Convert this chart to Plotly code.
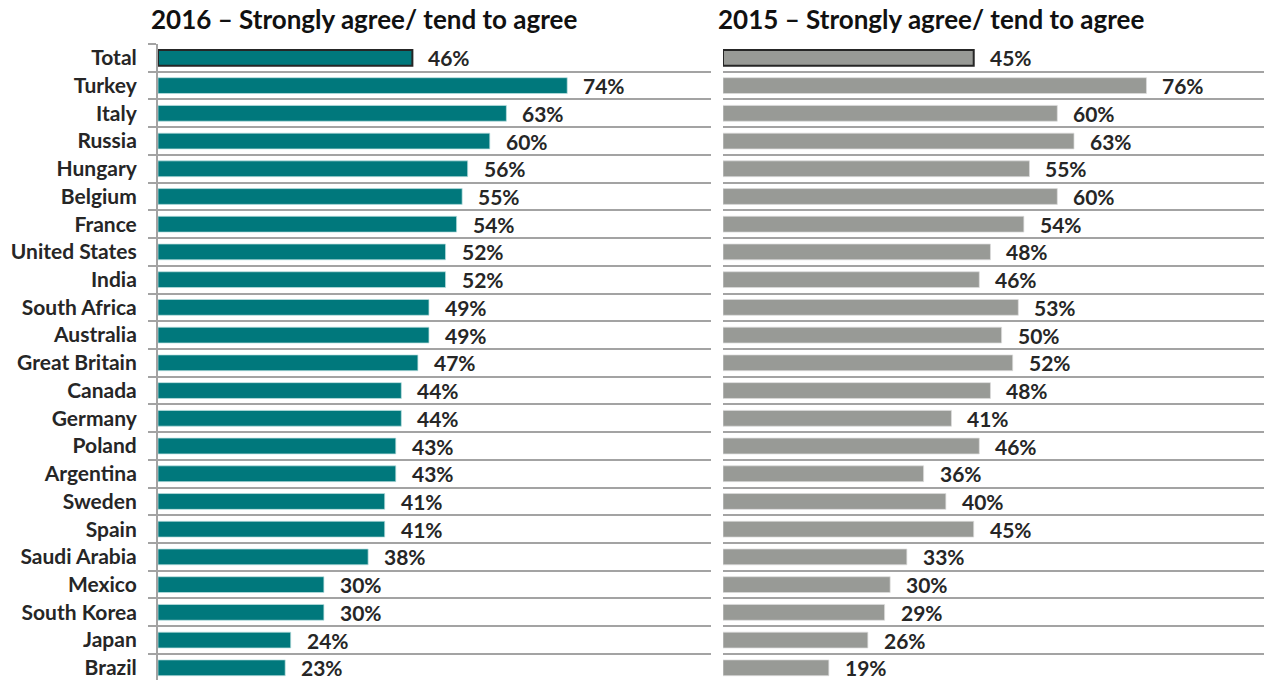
import plotly.graph_objects as go

categories = ["Total", "Turkey", "Italy", "Russia", "Hungary", "Belgium", "France",
              "United States", "India", "South Africa", "Australia", "Great Britain",
              "Canada", "Germany", "Poland", "Argentina", "Sweden", "Spain",
              "Saudi Arabia", "Mexico", "South Korea", "Japan", "Brazil"]
values_2016 = [46, 74, 63, 60, 56, 55, 54, 52, 52, 49, 49, 47, 44, 44, 43, 43, 41, 41, 38, 30, 30, 24, 23]
values_2015 = [45, 76, 60, 63, 55, 60, 54, 48, 46, 53, 50, 52, 48, 41, 46, 36, 40, 45, 33, 30, 29, 26, 19]
title_2016 = "2016 – Strongly agree/ tend to agree"
title_2015 = "2015 – Strongly agree/ tend to agree"

W, H = 1264, 680
TOP = 44
FONT = "Lato"
TXT = "#262626"
GRID = "#a3a3a3"
TEAL = "#00787c"
GRAY = "#989a96"

line_w = [2 if c == "Total" else 0.8 for c in categories]
line_c1 = ["#262626" if c == "Total" else "rgba(190,225,225,0.9)" for c in categories]
line_c2 = ["#262626" if c == "Total" else "rgba(220,220,220,0.9)" for c in categories]

fig = go.Figure()
fig.add_trace(go.Bar(x=values_2016, y=categories, orientation="h",
                     marker=dict(color=TEAL, line=dict(color=line_c1, width=line_w)),
                     xaxis="x", yaxis="y", hoverinfo="skip"))
fig.add_trace(go.Bar(x=values_2015, y=categories, orientation="h",
                     marker=dict(color=GRAY, line=dict(color=line_c2, width=line_w)),
                     xaxis="x2", yaxis="y2", hoverinfo="skip"))

annotations = []
for c, v in zip(categories, values_2016):
    annotations.append(dict(x=v, y=c, xref="x", yref="y", text=f"{v}%", showarrow=False,
                            xanchor="left", yanchor="middle", xshift=14, yshift=0,
                            font=dict(family=FONT, size=21, color=TXT, weight="bold")))
for c, v in zip(categories, values_2015):
    annotations.append(dict(x=v, y=c, xref="x2", yref="y2", text=f"{v}%", showarrow=False,
                            xanchor="left", yanchor="middle", xshift=14, yshift=0,
                            font=dict(family=FONT, size=21, color=TXT, weight="bold")))

plot_h = H - TOP
ty = 1 + (TOP - 19) / plot_h
annotations.append(dict(x=364 / W, y=ty, xref="paper", yref="paper", text=title_2016,
                        showarrow=False, xanchor="center", yanchor="middle",
                        font=dict(family=FONT, size=26, color="#111111", weight="bold")))
annotations.append(dict(x=931 / W, y=ty, xref="paper", yref="paper", text=title_2015,
                        showarrow=False, xanchor="center", yanchor="middle",
                        font=dict(family=FONT, size=26, color="#111111", weight="bold")))

yrange = [22.44, -0.5]
fig.update_layout(
    width=W, height=H,
    margin=dict(l=0, r=0, t=TOP, b=0),
    paper_bgcolor="white", plot_bgcolor="white",
    showlegend=False, bargap=0.43,
    annotations=annotations,
    xaxis=dict(domain=[158 / W, 711 / W], range=[0, 100], visible=False, fixedrange=True),
    xaxis2=dict(domain=[723 / W, 1.0], range=[0, 97.1], visible=False, fixedrange=True),
    yaxis=dict(type="category", anchor="x", range=yrange, tickson="boundaries",
               showgrid=True, gridcolor=GRID, gridwidth=2,
               ticks="outside", ticklen=8, tickcolor=GRID, tickwidth=2,
               showline=True, linecolor=GRID, linewidth=2,
               ticklabelstandoff=15,
               tickfont=dict(family=FONT, size=21, color=TXT, weight="bold"),
               zeroline=False, fixedrange=True),
    yaxis2=dict(type="category", anchor="x2", range=yrange, tickson="boundaries",
                showgrid=True, gridcolor=GRID, gridwidth=2, showticklabels=False,
                ticks="", showline=False, zeroline=False, fixedrange=True),
)

fig.write_html("out.html", config={"displayModeBar": False})
